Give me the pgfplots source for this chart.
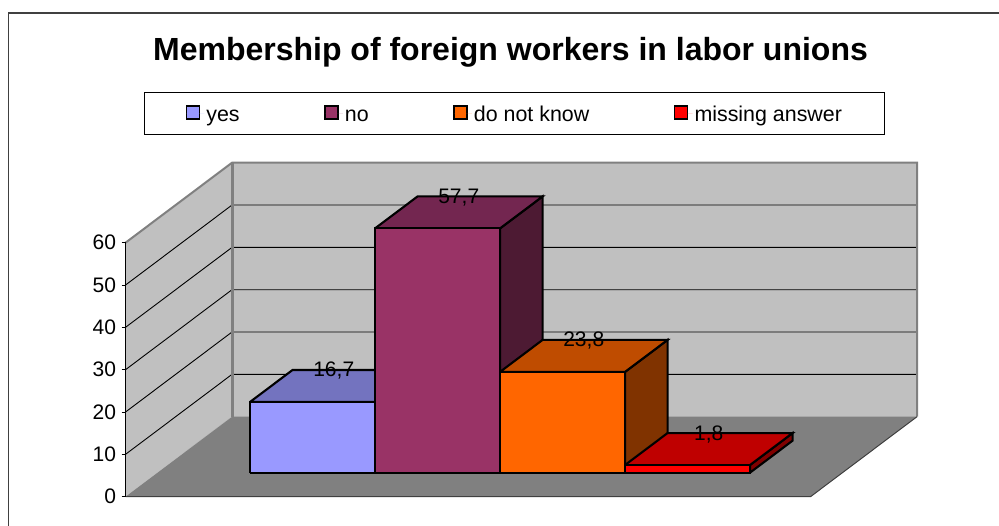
\documentclass[border=0pt]{standalone}
\usepackage{fontspec}
\setmainfont{Liberation Sans}
\usepackage{pgfplots}
\pgfplotsset{compat=1.18}
\definecolor{wallc}{HTML}{C0C0C0}
\definecolor{floorc}{HTML}{808080}
\definecolor{framec}{HTML}{404040}
\definecolor{yesf}{HTML}{9999FF}
\definecolor{yest}{HTML}{7373BF}
\definecolor{yess}{HTML}{4D4D80}
\definecolor{nof}{HTML}{993366}
\definecolor{not}{HTML}{732650}
\definecolor{nos}{HTML}{4D1A33}
\definecolor{dkf}{HTML}{FF6600}
\definecolor{dkt}{HTML}{BF4C00}
\definecolor{dks}{HTML}{803300}
\definecolor{maf}{HTML}{FF0000}
\definecolor{mat}{HTML}{BF0000}
\definecolor{mas}{HTML}{800000}
% x0, x1, value, front, top, side
\newcommand{\drawbar}[6]{%
  \addplot3[forget plot,barface,fill=#6] coordinates {(#2,0.3,0) (#2,0.7,0) (#2,0.7,#3) (#2,0.3,#3) (#2,0.3,0)};
  \addplot3[forget plot,barface,fill=#5] coordinates {(#1,0.3,#3) (#2,0.3,#3) (#2,0.7,#3) (#1,0.7,#3) (#1,0.3,#3)};
  \addplot3[forget plot,barface,fill=#4] coordinates {(#1,0.3,0) (#2,0.3,0) (#2,0.3,#3) (#1,0.3,#3) (#1,0.3,0)};
}
\pgfplotsset{barface/.style={draw=black,line width=2.1pt,line join=miter,mark=none}}
\begin{document}
\begin{tikzpicture}[x=1pt,y=1pt]
\path[use as bounding box] (0,0) rectangle (999,526);
\draw[framec,line width=1.5pt] (8.3,0) -- (8.3,513) -- (999,513);
\node[anchor=base,font=\fontsize{32}{36}\selectfont\bfseries] at (510.5,465) {Membership of foreign workers in labor unions};
\begin{axis}[
  at={(468pt,29.3pt)},anchor=origin,
  x={(125pt,0pt)},y={(106.5pt,80pt)},z={(0pt,4.233pt)},
  xmin=-2.74,xmax=2.74,ymin=0,ymax=1,zmin=0,zmax=60,
  clip=false,
  axis lines*=left,
  x axis line style={draw=none},y axis line style={draw=none},
  z axis line style={draw=black,line width=1pt},
  xtick=\empty,ytick=\empty,ztick={0,10,...,60},
  major tick length=0pt,
  ticklabel style={font=\fontsize{21}{24}\selectfont},
  zticklabel style={anchor=east,xshift=-6pt},
  /pgf/number format/assume math mode=true,
  legend columns=4,
  legend cell align=left,
  legend image code/.code={\draw[#1,line width=1.8pt] (0pt,-5pt) rectangle (13pt,8pt);\path[draw=none] (0pt,0pt) -- (18pt,0pt);},
  legend style={at={(axis cs:-2.592,0,85.45)},anchor=south west,draw=black,line width=1pt,
    font=\fontsize{21.4}{24}\selectfont,inner xsep=41pt,inner ysep=6pt,
    nodes={text height=21pt,text depth=4.5pt},
    /tikz/every even column/.append style={column sep=82.3pt}},
]
% walls and floor
\addplot3[forget plot,fill=wallc,draw=none] coordinates {(-2.74,0,0) (-2.74,1,0) (-2.74,1,60) (-2.74,0,60)};
\addplot3[forget plot,fill=wallc,draw=none] coordinates {(-2.74,1,0) (2.74,1,0) (2.74,1,60) (-2.74,1,60)};
\addplot3[forget plot,fill=floorc,draw=none] coordinates {(-2.74,0,0) (2.74,0,0) (2.74,1,0) (-2.74,1,0)};
% gridlines
\addplot3[forget plot,black,line width=0.9pt] coordinates {(-2.74,0,10) (-2.74,1,10) (2.74,1,10)};
\addplot3[forget plot,black,line width=0.9pt] coordinates {(-2.74,0,20) (-2.74,1,20) (2.74,1,20)};
\addplot3[forget plot,black,line width=0.9pt] coordinates {(-2.74,0,30) (-2.74,1,30) (2.74,1,30)};
\addplot3[forget plot,black,line width=0.9pt] coordinates {(-2.74,0,40) (-2.74,1,40) (2.74,1,40)};
\addplot3[forget plot,black,line width=0.9pt] coordinates {(-2.74,0,50) (-2.74,1,50) (2.74,1,50)};
% wall edges
\addplot3[forget plot,floorc,line width=2pt] coordinates {(-2.74,0,60) (-2.74,1,60) (2.74,1,60) (2.74,1,0)};
\addplot3[forget plot,floorc,line width=3pt] coordinates {(-2.74,1,0) (-2.74,1,60)};
\addplot3[forget plot,framec,line width=1pt] coordinates {(-2.74,0,0) (2.74,0,0) (2.74,1,0)};
% front axis and its tick marks
\addplot3[forget plot,black,line width=1pt] coordinates {(-2.74,0,0) (-2.74,0,60)};
\addplot3[forget plot,black,line width=1pt] coordinates {(-2.772,0,0) (-2.74,0,0)};
\addplot3[forget plot,black,line width=1pt] coordinates {(-2.772,0,10) (-2.74,0,10)};
\addplot3[forget plot,black,line width=1pt] coordinates {(-2.772,0,20) (-2.74,0,20)};
\addplot3[forget plot,black,line width=1pt] coordinates {(-2.772,0,30) (-2.74,0,30)};
\addplot3[forget plot,black,line width=1pt] coordinates {(-2.772,0,40) (-2.74,0,40)};
\addplot3[forget plot,black,line width=1pt] coordinates {(-2.772,0,50) (-2.74,0,50)};
\addplot3[forget plot,black,line width=1pt] coordinates {(-2.772,0,60) (-2.74,0,60)};
% bars
\drawbar{-2}{-1}{16.7}{yesf}{yest}{yess}
\drawbar{-1}{0}{57.7}{nof}{not}{nos}
\drawbar{0}{1}{23.8}{dkf}{dkt}{dks}
\drawbar{1}{2}{1.8}{maf}{mat}{mas}
% data labels
\addplot3[forget plot,draw=none,mark=none,point meta=z,nodes near coords,
  nodes near coords style={anchor=center,yshift=15pt,font=\fontsize{21}{24}\selectfont,
    /pgf/number format/.cd,fixed,precision=1,use comma,assume math mode=true}]
  coordinates {(-1.5,0.5,16.7) (-0.5,0.5,57.7) (0.5,0.5,23.8) (1.5,0.5,1.8)};
\addlegendimage{fill=yesf,draw=black}\addlegendentry{yes}
\addlegendimage{fill=nof,draw=black}\addlegendentry{no}
\addlegendimage{fill=dkf,draw=black}\addlegendentry{do not know}
\addlegendimage{fill=maf,draw=black}\addlegendentry{missing answer}
\end{axis}
\end{tikzpicture}
\end{document}
